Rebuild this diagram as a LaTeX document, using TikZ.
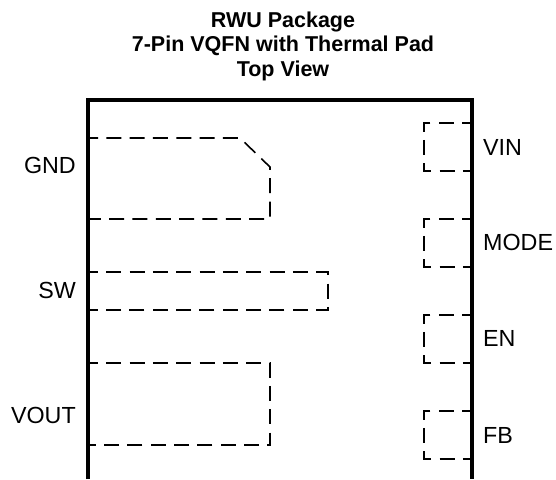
\documentclass[tikz,border=0pt]{standalone}
\usepackage{fontspec}
\setmainfont{Liberation Sans}
\tikzset{
  pin/.style={inner sep=0pt, font=\fontsize{23.3}{28}\selectfont},
  pad/.style={line width=1.6pt, dash pattern=on 15pt off 8.33pt},
  body/.style={line width=4pt, line join=miter}
}
\begin{document}
\begin{tikzpicture}[x=1pt,y=-1pt]
  \useasboundingbox (0,0) rectangle (556,479);
  \node[inner sep=0pt, align=center, font=\fontsize{21.5}{24.5}\selectfont\bfseries] (title) at (283,46) {RWU Package\\7-Pin VQFN with Thermal Pad\\Top View};
  % Pads on the left side
  \draw[pad, dash phase=5pt] (88,138) -- (240,138) -- (270,167) -- (270,219) -- (88,219);
  \draw[pad, dash phase=5pt] (88,272) -- (328,272) -- (328,310) -- (88,310);
  \draw[pad, dash phase=5pt] (88,363) -- (270,363) -- (270,445) -- (88,445);
  % Pads on the right side
  \draw[pad, dash phase=6pt] (471,123) -- (424,123) -- (424,171) -- (471,171);
  \draw[pad, dash phase=6pt] (471,219) -- (424,219) -- (424,267) -- (471,267);
  \draw[pad, dash phase=6pt] (471,315) -- (424,315) -- (424,363) -- (471,363);
  \draw[pad, dash phase=6pt] (471,411) -- (424,411) -- (424,459) -- (471,459);
  % Package outline
  \draw[body] (88,479) -- (88,100) -- (471.5,100) -- (471.5,479);
  % Pin names
  \node[pin, anchor=east] (gnd) at (76,165.5) {GND};
  \node[pin, anchor=east] (sw) at (76,290) {SW};
  \node[pin, anchor=east] (vout) at (76,415) {VOUT};
  \node[pin, anchor=west] (vin) at (483,147) {VIN};
  \node[pin, anchor=west] (mode) at (483,242.5) {MODE};
  \node[pin, anchor=west] (en) at (483,338.5) {EN};
  \node[pin, anchor=west] (fb) at (483,435) {FB};
\end{tikzpicture}
\end{document}
